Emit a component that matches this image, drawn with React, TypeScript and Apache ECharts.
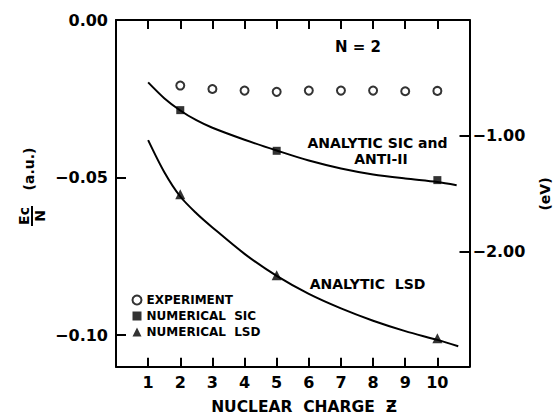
import React, { useEffect, useRef } from 'react';
import * as echarts from 'echarts';

// ---- data ----
const zTicks = [1, 2, 3, 4, 5, 6, 7, 8, 9, 10];
const leftTicks = [0, -0.05, -0.1];
const leftTickLabels = ['0.00', '−0.05', '−0.10'];
const rightTicks = [-1, -2];
const rightTickLabels = ['−1.00', '−2.00'];

const experimentZ = [2, 3, 4, 5, 6, 7, 8, 9, 10];
const experimentEc = [-0.0208, -0.0219, -0.0224, -0.0228, -0.0224, -0.0224, -0.0224, -0.0226, -0.0225];

const numericalSicZ = [2, 5, 10];
const numericalSicEc = [-0.0286, -0.0415, -0.0508];

const numericalLsdZ = [2, 5, 10];
const numericalLsdEc = [-0.0553, -0.081, -0.101];

const analyticSicZ = [1, 1.5, 2, 2.5, 3, 4, 5, 6, 7, 8, 9, 10, 10.6];
const analyticSicEc = [-0.0198, -0.0248, -0.0287, -0.0318, -0.0342, -0.038, -0.0414, -0.0446, -0.0471, -0.049, -0.0503, -0.0514, -0.0524];

const analyticLsdZ = [1, 1.5, 2, 2.5, 3, 4, 5, 6, 7, 8, 9, 10, 10.65];
const analyticLsdEc = [-0.0381, -0.0482, -0.056, -0.0613, -0.0658, -0.0742, -0.0812, -0.0869, -0.0915, -0.0954, -0.0987, -0.1015, -0.1035];

const HARTREE_EV = 27.2114;
const Y_MIN = -0.11;
const Y_MAX = 0;
const X_MIN = 0;
const X_MAX = 11;

const zip = (xs: number[], ys: number[]) => xs.map((x, i) => [x, ys[i]]);

const FONT = 'DejaVu Sans';

export default function App() {
  const ref = useRef<HTMLDivElement>(null);

  useEffect(() => {
    if (!ref.current) return;
    const chart = echarts.init(ref.current, null, { renderer: 'svg' });

    const axisLineStyle = { color: '#000', width: 2 };
    const tickStyle = { color: '#000', width: 2 };
    const labelStyle = { color: '#000', fontFamily: FONT, fontWeight: 'bold' as const, fontSize: 16 };

    const txt = (text: string, x: number, y: number, size: number, extra: any = {}) => ({
      type: 'text',
      x,
      y,
      ...extra,
      style: {
        text,
        fill: '#000',
        fontFamily: FONT,
        fontWeight: 'bold',
        fontSize: size,
        align: 'center',
        verticalAlign: 'middle',
      },
    });

    const pick = (ticks: number[], labels: string[]) => (v: number) => {
      const i = ticks.findIndex((t) => Math.abs(t - v) < 1e-9);
      return i >= 0 ? labels[i] : '';
    };

    chart.setOption({
      animation: false,
      backgroundColor: '#fff',
      grid: { left: 116, right: 86.5, top: 20, bottom: 49.3 },
      xAxis: [
        {
          type: 'value',
          min: X_MIN,
          max: X_MAX,
          interval: 1,
          position: 'bottom',
          axisLine: { show: true, onZero: false, lineStyle: axisLineStyle },
          axisTick: { show: true, inside: true, length: 9, lineStyle: tickStyle, customValues: zTicks },
          axisLabel: {
            show: true,
            margin: 8,
            customValues: zTicks,
            formatter: (v: number) => String(v),
            ...labelStyle,
          },
          splitLine: { show: false },
        },
        {
          type: 'value',
          min: X_MIN,
          max: X_MAX,
          interval: 1,
          position: 'top',
          axisLine: { show: true, onZero: false, lineStyle: axisLineStyle },
          axisTick: { show: true, inside: true, length: 9, lineStyle: tickStyle, customValues: zTicks },
          axisLabel: { show: false },
          splitLine: { show: false },
        },
      ],
      yAxis: [
        {
          type: 'value',
          min: Y_MIN,
          max: Y_MAX,
          position: 'left',
          axisLine: { show: true, onZero: false, lineStyle: axisLineStyle },
          axisTick: { show: true, inside: true, length: 10, lineStyle: tickStyle, customValues: leftTicks.slice(1) },
          axisLabel: {
            show: true,
            margin: 8,
            customValues: leftTicks,
            formatter: pick(leftTicks, leftTickLabels),
            ...labelStyle,
          },
          splitLine: { show: false },
        },
        {
          type: 'value',
          min: Y_MIN * HARTREE_EV,
          max: Y_MAX,
          position: 'right',
          axisLine: { show: true, onZero: false, lineStyle: axisLineStyle },
          axisTick: { show: true, inside: true, length: 10, lineStyle: tickStyle, customValues: rightTicks },
          axisLabel: {
            show: true,
            margin: 3,
            customValues: rightTicks,
            formatter: pick(rightTicks, rightTickLabels),
            ...labelStyle,
          },
          splitLine: { show: false },
        },
      ],
      legend: {
        show: true,
        orient: 'vertical',
        left: 131.5,
        top: 294,
        itemWidth: 9,
        itemHeight: 9,
        itemGap: 4,
        padding: 0,
        data: ['EXPERIMENT', 'NUMERICAL  SIC', 'NUMERICAL  LSD'],
        textStyle: { color: '#000', fontFamily: FONT, fontWeight: 'bold', fontSize: 12, lineHeight: 12, padding: [0, 0, 0, 0] },
        selectedMode: false,
      },
      series: [
        {
          name: 'ANALYTIC SIC',
          type: 'line',
          smooth: 0.3,
          showSymbol: false,
          data: zip(analyticSicZ, analyticSicEc),
          lineStyle: { color: '#000', width: 2 },
          itemStyle: { color: '#000' },
          silent: true,
          z: 2,
        },
        {
          name: 'ANALYTIC LSD',
          type: 'line',
          smooth: 0.3,
          showSymbol: false,
          data: zip(analyticLsdZ, analyticLsdEc),
          lineStyle: { color: '#000', width: 2 },
          itemStyle: { color: '#000' },
          silent: true,
          z: 2,
        },
        {
          name: 'EXPERIMENT',
          type: 'scatter',
          symbol: 'emptyCircle',
          symbolSize: 8,
          data: zip(experimentZ, experimentEc),
          itemStyle: { color: '#000', borderColor: '#000', borderWidth: 1.6 },
          z: 3,
        },
        {
          name: 'NUMERICAL  SIC',
          type: 'scatter',
          symbol: 'rect',
          symbolSize: 8,
          data: zip(numericalSicZ, numericalSicEc),
          itemStyle: { color: '#000' },
          z: 3,
        },
        {
          name: 'NUMERICAL  LSD',
          type: 'scatter',
          symbol: 'triangle',
          symbolSize: 10,
          data: zip(numericalLsdZ, numericalLsdEc),
          itemStyle: { color: '#000' },
          z: 3,
        },
      ],
      graphic: [
        txt('N = 2', 358, 47, 15),
        txt('ANALYTIC SIC and', 377.5, 142.5, 14),
        txt('ANTI-II', 381, 159, 14),
        txt('ANALYTIC  LSD', 367.5, 284, 14),
        txt('NUCLEAR  CHARGE  Ƶ', 304, 407, 15.5),
        txt('(a.u.)', 29, 169, 14, { rotation: Math.PI / 2 }),
        txt('(eV)', 545, 194, 14, { rotation: Math.PI / 2 }),
        {
          type: 'group',
          x: 32,
          y: 216,
          rotation: Math.PI / 2,
          children: [
            txt('Ec', 0, -8, 14),
            { type: 'rect', shape: { x: -10, y: -1, width: 20, height: 2 }, style: { fill: '#000' } },
            txt('N', 0, 8, 14),
          ],
        },
      ],
    });

    return () => chart.dispose();
  }, []);

  return (
    <div
      ref={ref}
      style={{ position: 'absolute', left: 0, top: 0, width: 556, height: 416, background: '#fff' }}
    />
  );
}
